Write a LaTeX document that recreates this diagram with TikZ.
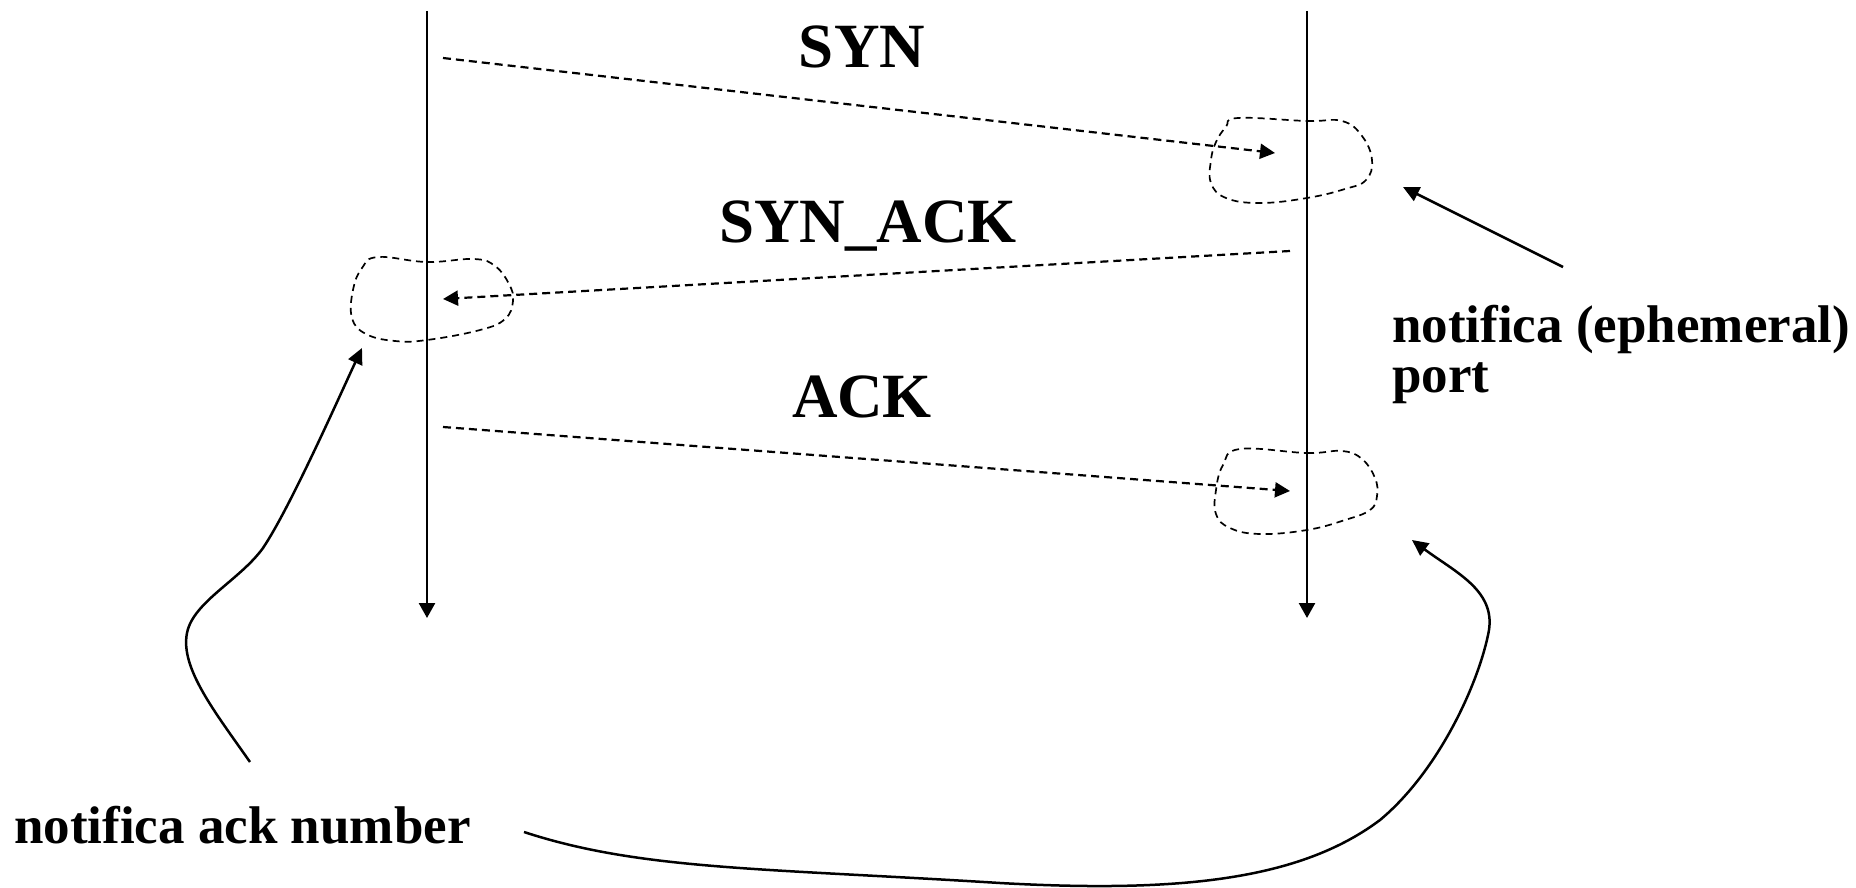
\documentclass[tikz,border=0pt]{standalone}
\usepackage{fontspec}
\setmainfont{Liberation Serif}
\usetikzlibrary{arrows.meta}
\begin{document}
\begin{tikzpicture}[x=1pt,y=-1pt,
  life/.style={line width=2.5pt,-{Triangle[length=15pt,width=16pt]}},
  msg/.style={line width=2.2pt,dash pattern=on 8pt off 5pt,-{Triangle[length=15pt,width=15pt]}},
  blob/.style={line width=1.7pt,dash pattern=on 7pt off 5pt},
  note/.style={line width=2.5pt,-{Triangle[length=16pt,width=15pt]}},
  lbl/.style={inner sep=0pt,anchor=base,font=\fontsize{63}{63}\selectfont\bfseries},
  txt/.style={inner sep=0pt,anchor=base west,font=\fontsize{53}{50}\selectfont\bfseries}]
\useasboundingbox (0,0) rectangle (1856,888);

% lifelines
\coordinate (ltop) at (427,11);
\coordinate (lbot) at (427,618);
\coordinate (rtop) at (1307,11);
\coordinate (rbot) at (1307,618);
\draw[life] (ltop) -- (lbot);
\draw[life] (rtop) -- (rbot);

% blobs
\draw[blob] plot[smooth cycle, tension=0.7] coordinates {(1238,118) (1307,121) (1342,121) (1362,136) (1372,160) (1366,180) (1345,189) (1307,198) (1260,203) (1226,198) (1211,183) (1211,160) (1216,142) (1226,127)};
\draw[blob] plot[smooth cycle, tension=0.7] coordinates {(378,257) (427,262) (474,259) (495,266) (509,284) (513,301) (505,319) (480,330) (427,340) (395,341) (366,334) (352,318) (353,290) (362,268)};
\draw[blob] plot[smooth cycle, tension=0.7] coordinates {(1240,449) (1307,453) (1342,451) (1362,459) (1375,478) (1377,496) (1370,510) (1345,520) (1307,530) (1260,534) (1230,528) (1216,514) (1216,490) (1223,465)};

% messages
\coordinate (s1) at (443,58);
\coordinate (e1) at (1275,153);
\coordinate (s2) at (1290,251);
\coordinate (e2) at (443,299);
\coordinate (s3) at (443,427);
\coordinate (e3) at (1290,491);
\draw[msg] (s1) -- (e1);
\draw[msg] (s2) -- (e2);
\draw[msg] (s3) -- (e3);

\node[lbl] (syn) at (862,68) {SYN};
\node[lbl] (synack) at (868,242) {SYN\_ACK};
\node[lbl] (ack) at (862,417) {ACK};

% notes
\node[txt] (eph) at (1392,342) {notifica (ephemeral)};
\node[txt] (port) at (1392,392) {port};
\node[txt] (acknum) at (14,843) {notifica ack number};

\coordinate (n1s) at (1563,267);
\coordinate (n1e) at (1403,187);
\draw[note] (n1s) -- (n1e);

\coordinate (n2s) at (250,762);
\coordinate (n2e) at (362,348);
\draw[note] (n2s) .. controls (215,712) and (180,668) .. (187,633)
  .. controls (193,602) and (240,580) .. (263,548)
  .. controls (290,508) and (340,395) .. (n2e);

\coordinate (n3s) at (524,832);
\coordinate (n3e) at (1412,540);
\draw[note] (n3s) .. controls (640,870) and (760,868) .. (1000,883)
  .. controls (1180,893) and (1300,880) .. (1380,820)
  .. controls (1440,770) and (1480,680) .. (1489,630)
  .. controls (1495,590) and (1455,572) .. (n3e);
\end{tikzpicture}
\end{document}
